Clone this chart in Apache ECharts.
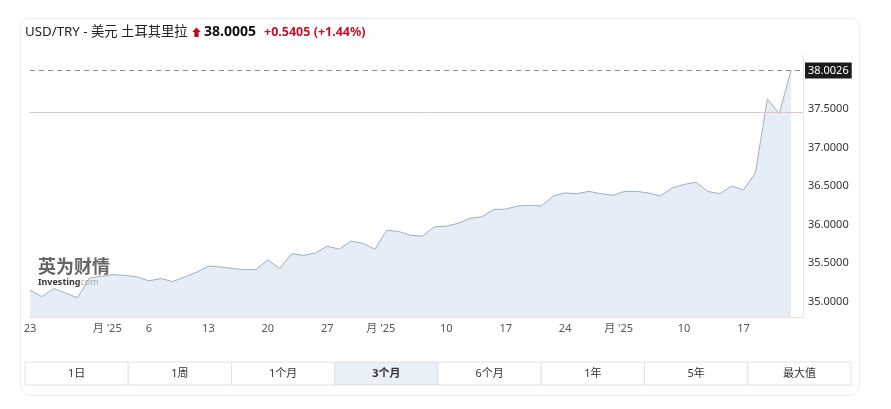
<!DOCTYPE html>
<html>
<head>
<meta charset="utf-8">
<script src="https://cdn.jsdelivr.net/npm/echarts@6/dist/echarts.min.js"></script>
<style>
html,body{margin:0;padding:0;background:#fff;}
#c{width:891px;height:409px;}
</style>
</head>
<body>
<div id="c"></div>
<script>
// Trading days (weekdays) 23 Dec 2024 – 21 Mar 2025
const dates = [
 '12-23','12-24','12-25','12-26','12-27','12-30','12-31',
 '01-01','01-02','01-03','01-06','01-07','01-08','01-09','01-10','01-13','01-14','01-15','01-16','01-17',
 '01-20','01-21','01-22','01-23','01-24','01-27','01-28','01-29','01-30','01-31',
 '02-03','02-04','02-05','02-06','02-07','02-10','02-11','02-12','02-13','02-14','02-17','02-18','02-19','02-20','02-21',
 '02-24','02-25','02-26','02-27','02-28',
 '03-03','03-04','03-05','03-06','03-07','03-10','03-11','03-12','03-13','03-14','03-17','03-18','03-19','03-20','03-21'
];
const usdTry = [
 35.15,35.065,35.17,35.11,35.05,35.305,35.33,
 35.35,35.34,35.32,35.27,35.30,35.26,35.32,35.38,35.46,35.45,35.43,35.415,35.415,
 35.54,35.43,35.62,35.60,35.63,35.72,35.68,35.785,35.755,35.68,
 35.925,35.91,35.86,35.85,35.97,35.98,36.015,36.08,36.10,36.195,36.20,36.24,36.25,36.24,36.37,
 36.41,36.40,36.43,36.40,36.38,
 36.43,36.43,36.41,36.37,36.475,36.52,36.55,36.43,36.40,36.50,36.45,36.67,37.63,37.44,38.0026
];
const tickDates = ['12-23','01-01','01-06','01-13','01-20','01-27','02-03','02-10','02-17','02-24','03-03','03-10','03-17'];
const tickTexts = ['23',"月 '25",'6','13','20','27',"月 '25",'10','17','24',"月 '25",'10','17'];
const yTicks = [35, 35.5, 36, 36.5, 37, 37.5];
const lastValue = 38.0026;
const prevClose = 37.46;
const titleMain = 'USD/TRY - 美元 土耳其里拉';
const priceText = '38.0005';
const changeText = '+0.5405 (+1.44%)';
const ranges = ['1日','1周','1个月','3个月','6个月','1年','5年','最大值'];
const selectedRange = '3个月';

const FONT = "'Noto Sans','Noto Sans CJK SC',sans-serif";
const cats = dates.concat(['']);

const chart = echarts.init(document.getElementById('c'), null, {renderer:'canvas'});

const btnGraphics = [];
const bx0 = 25, bx1 = 851, by = 362, bh = 23;
const bw = (bx1 - bx0) / ranges.length;
ranges.forEach((r, i) => {
  const sel = r === selectedRange;
  btnGraphics.push({
    type:'rect', shape:{x:bx0 + i*bw, y:by, width:bw, height:bh},
    style:{fill: sel ? '#e9f0f8' : '#fff', stroke:'#e2e2e2', lineWidth:1}, z:10
  });
  btnGraphics.push({
    type:'text', x:bx0 + i*bw + bw/2, y:by + bh/2,
    style:{text:r, fill:'#333', font:(sel?'bold ':'') + '11px ' + FONT, textAlign:'center', textVerticalAlign:'middle'}, z:11
  });
});

const option = {
  animation:false,
  textStyle:{fontFamily:FONT},
  grid:{left:30, right:88, top:55, bottom:92},
  xAxis:{
    type:'category', data:cats, boundaryGap:false,
    axisLine:{show:true, lineStyle:{color:'#e3e3e3'}},
    axisTick:{show:true, inside:true, length:16, lineStyle:{color:'#dde3ea'},
      interval:(idx, val) => tickDates.indexOf(val) >= 0},
    axisLabel:{
      interval:(idx, val) => tickDates.indexOf(val) >= 0,
      formatter:(val) => {
        const k = tickDates.indexOf(val);
        if (k < 0) return '';
        const t = tickTexts[k];
        return t.indexOf('月') >= 0 ? '{m|' + t + '}' : t;
      },
      color:'#555', fontSize:11, margin:6,
      rich:{m:{color:'#555', fontSize:11, padding:[0,12,0,0]}}
    },
    splitLine:{show:false}
  },
  yAxis:{
    type:'value', position:'right', min:34.8, max:38.2, scale:true,
    axisLine:{show:true, lineStyle:{color:'#e6e6e6'}},
    axisTick:{show:false},
    splitLine:{show:false},
    axisLabel:{customValues:yTicks, formatter:(v)=>v.toFixed(4), color:'#333', fontSize:11, margin:5}
  },
  series:[{
    type:'line', data:usdTry, symbol:'none', smooth:false,
    lineStyle:{color:'#9eafc0', width:1},
    areaStyle:{color:'#e6edf6', opacity:1},
    markLine:{
      silent:true, symbol:['none','none'],
      data:[
        {yAxis:lastValue, lineStyle:{type:[5,4], color:'#8a8a8a', width:1},
         label:{show:true, position:'end', formatter:lastValue.toFixed(4), color:'#fff',
                backgroundColor:'#1b1b1b', padding:[3,3,2,3], fontSize:11, distance:2}},
        {yAxis:prevClose, lineStyle:{type:'solid', color:'#e3c3c7', width:1}, label:{show:false}}
      ]
    }
  }],
  graphic:[
    {type:'rect', shape:{x:20.5, y:18.5, width:839, height:377, r:10}, style:{fill:'none', stroke:'#ececec', lineWidth:1}, z:-1},
    {type:'text', x:25, y:32, style:{text:titleMain, fill:'#222', font:'13.3px ' + FONT, textVerticalAlign:'middle'}},
    {type:'polygon', shape:{points:[[196.5,27.5],[200.8,32],[198.6,32],[198.6,37],[194.4,37],[194.4,32],[192.2,32]]}, style:{fill:'#d0021b'}},
    {type:'text', x:204, y:32, style:{text:priceText, fill:'#111', font:'bold 14px ' + FONT, textVerticalAlign:'middle'}},
    {type:'text', x:264, y:32, style:{text:changeText, fill:'#c8102e', font:'bold 12.5px ' + FONT, textVerticalAlign:'middle'}},
    {type:'text', x:38, y:268, z:20, style:{text:'英为财情', fill:'#666', font:'bold 18px ' + FONT, textVerticalAlign:'middle'}},
    {type:'text', x:38, y:282, z:20, style:{text:'Investing', fill:'#333', font:'bold 9px ' + FONT, textVerticalAlign:'middle'}},
    {type:'text', x:78, y:282, z:20, style:{text:'.com', fill:'#aaa', font:'9px ' + FONT, textVerticalAlign:'middle'}}
  ].concat(btnGraphics)
};
chart.setOption(option);
</script>
</body>
</html>
